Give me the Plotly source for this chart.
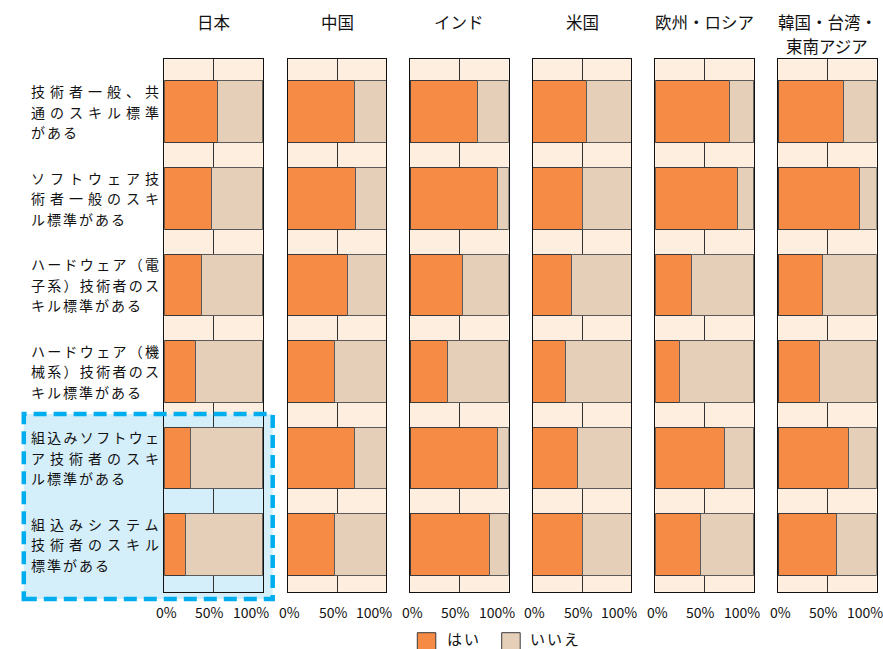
import plotly.graph_objects as go
from plotly.subplots import make_subplots

# ---------------- data ----------------
regions = ["日本", "中国", "インド", "米国", "欧州・ロシア", "韓国・台湾・<br>東南アジア"]

row_labels = [
    ["技術者一般、共", "通のスキル標準", "がある"],
    ["ソフトウェア技", "術者一般のスキ", "ル標準がある"],
    ["ハードウェア（電", "子系）技術者のス", "キル標準がある"],
    ["ハードウェア（機", "械系）技術者のス", "キル標準がある"],
    ["組込みソフトウェ", "ア技術者のスキ", "ル標準がある"],
    ["組込みシステム", "技術者のスキル", "標準がある"],
]
rows = [0, 1, 2, 3, 4, 5]

yes_japan = [54, 48, 38, 32, 27, 21]
yes_china = [68, 69, 61, 47, 68, 47]
yes_india = [68, 89, 53, 38, 89, 81]
yes_us = [55, 50, 39, 33, 45, 50]
yes_europe = [75, 83, 37, 25, 70, 46]
yes_korea = [66, 83, 45, 42, 71, 59]

no_japan = [46, 52, 62, 68, 73, 79]
no_china = [32, 31, 39, 53, 32, 53]
no_india = [32, 11, 47, 62, 11, 19]
no_us = [45, 50, 61, 67, 55, 50]
no_europe = [25, 17, 63, 75, 30, 54]
no_korea = [34, 17, 55, 58, 29, 41]

yes_values = [yes_japan, yes_china, yes_india, yes_us, yes_europe, yes_korea]
no_values = [no_japan, no_china, no_india, no_us, no_europe, no_korea]

tick_vals = [0, 50, 100]
tick_text = ["0%", "50%", "100%"]
series_names = ["はい", "いいえ"]

# ---------------- style ----------------
W, H = 883, 649
ORANGE = "#F68B46"
BEIGE = "#E6CFB9"
PEACH = "#FEEEDF"
BLUE_FILL = "#D4EEFA"
BLUE_LINE = "#00AEEF"
OUTLINE = "#3a3a3a"
FONT = "Noto Sans CJK JP"
LABEL_SIZE = 14
LABEL_BOX = 128.0
LABEL_STEP = 20.4      # px between label lines
TITLE_SIZE = 16.5
TITLE_STEP = 24.0

lefts = [164.3, 287.7, 410.0, 532.7, 655.3, 778.0]
panel_w = 98.6
top_px, bot_px = 59.3, 591.7


def px_x(p):
    return p / W


def px_y(p):
    return (H - p) / H


def spaced(line, full):
    """Full lines are spread across the label box; the last line keeps natural spacing."""
    n = len(line)
    if full and n > 1:
        ls = max(0.5, (LABEL_BOX - n * LABEL_SIZE) / (n - 1))
    else:
        ls = 2.0
    return '<span style="letter-spacing:%.2fpx">%s</span>' % (ls, line)


fig = make_subplots(rows=1, cols=6, shared_yaxes=False, horizontal_spacing=0.01)

for i in range(6):
    col = i + 1
    fig.add_trace(go.Bar(
        x=yes_values[i], y=rows, orientation="h", name=series_names[0],
        marker=dict(color=ORANGE, line=dict(color=OUTLINE, width=1)),
        width=0.713, showlegend=False, hoverinfo="x+name"), row=1, col=col)
    fig.add_trace(go.Bar(
        x=no_values[i], y=rows, orientation="h", name=series_names[1],
        marker=dict(color=BEIGE, line=dict(color="#5a5a5a", width=1)),
        width=0.713, showlegend=False, hoverinfo="x+name"), row=1, col=col)

shapes = []
annotations = []
ydom = [px_y(bot_px), px_y(top_px)]
for i in range(6):
    sfx = "" if i == 0 else str(i + 1)
    x0, x1 = lefts[i], lefts[i] + panel_w
    fig.layout["xaxis" + sfx].update(
        domain=[px_x(x0), px_x(x1)], range=[0, 100], tickvals=tick_vals,
        showticklabels=False, ticks="", showgrid=True, gridcolor="#333333",
        gridwidth=1, zeroline=False, showline=True, linecolor="#111111",
        linewidth=1.3, mirror=True, fixedrange=True)
    fig.layout["yaxis" + sfx].update(
        domain=ydom, range=[5.547, -0.607], showticklabels=False, ticks="",
        showgrid=False, zeroline=False, showline=True, linecolor="#111111",
        linewidth=1.3, mirror=True, fixedrange=True)
    # panel background
    shapes.append(dict(type="rect", xref="paper", yref="paper",
                       x0=px_x(x0), x1=px_x(x1), y0=ydom[0], y1=ydom[1],
                       fillcolor=PEACH, line=dict(width=0), layer="below"))
    # column title (one annotation per line)
    for k, tline in enumerate(regions[i].split("<br>")):
        annotations.append(dict(text=tline, xref="paper", yref="paper",
                                x=px_x((x0 + x1) / 2), y=px_y(21.7 + k * TITLE_STEP),
                                xanchor="center", yanchor="middle", showarrow=False,
                                borderpad=0,
                                font=dict(family=FONT, size=TITLE_SIZE, color="#111111")))
    # tick labels (placed on the axis scale)
    for tv, tt, sh in zip(tick_vals, tick_text, [2, -4, -12]):
        annotations.append(dict(text=tt, xref="x" + sfx, yref="paper", x=tv,
                                y=px_y(611.7), xanchor="center", yanchor="middle",
                                xshift=sh, showarrow=False,
                                font=dict(family=FONT, size=14, color="#111111")))

# highlight box behind the embedded rows
shapes.append(dict(type="rect", xref="paper", yref="paper",
                   x0=px_x(23.8), x1=px_x(272.7), y0=px_y(599), y1=px_y(414),
                   fillcolor=BLUE_FILL, line=dict(width=0), layer="below"))
shapes.append(dict(type="rect", xref="paper", yref="paper",
                   x0=px_x(23.8), x1=px_x(272.7), y0=px_y(599), y1=px_y(414),
                   fillcolor="rgba(0,0,0,0)",
                   line=dict(color=BLUE_LINE, width=4.5, dash="13px,7px"),
                   layer="above"))

# row labels (one annotation per line, centred on the bar)
for r, lines in zip(rows, row_labels):
    nl = len(lines)
    for k, line in enumerate(lines):
        annotations.append(dict(text=spaced(line, k < nl - 1), xref="paper", yref="y",
                                x=px_x(30), y=r, yshift=((nl - 1) / 2 - k) * LABEL_STEP,
                                xanchor="left", yanchor="middle", showarrow=False,
                                borderpad=0,
                                font=dict(family=FONT, size=LABEL_SIZE, color="#111111")))

# legend (drawn)
for (lx, color, tx, name) in [(417.3, ORANGE, 446.0, series_names[0]),
                              (501.7, BEIGE, 528.5, series_names[1])]:
    shapes.append(dict(type="rect", xref="paper", yref="paper",
                       x0=px_x(lx), x1=px_x(lx + 18.5), y0=px_y(651),
                       y1=px_y(632.7), fillcolor=color,
                       line=dict(color=OUTLINE, width=1), layer="above"))
    annotations.append(dict(text='<span style="letter-spacing:2px">%s</span>' % name,
                            xref="paper", yref="paper", x=px_x(tx),
                            y=px_y(638.5), xanchor="left", yanchor="middle",
                            showarrow=False, borderpad=0,
                            font=dict(family=FONT, size=15, color="#111111")))

fig.update_layout(
    width=W, height=H, margin=dict(l=0, r=0, t=0, b=0),
    barmode="stack", bargap=0.287,
    paper_bgcolor="white", plot_bgcolor="rgba(0,0,0,0)",
    shapes=shapes, annotations=annotations, showlegend=False,
    font=dict(family=FONT),
)

fig.write_html("out.html")
